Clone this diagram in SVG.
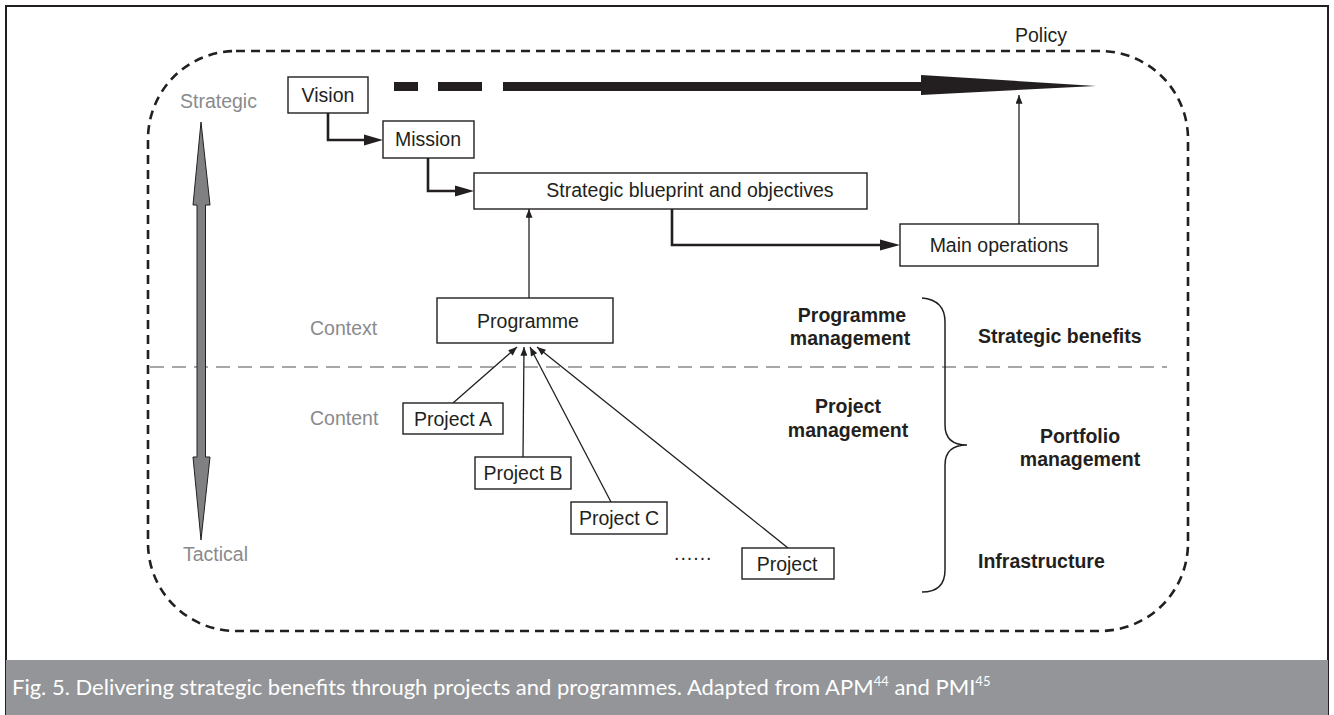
<svg xmlns="http://www.w3.org/2000/svg" width="1334" height="715" viewBox="0 0 1334 715">
<style>
.box{fill:#fff;stroke:#231f20;stroke-width:1.4}
.t{font-family:"Liberation Sans",Arial,sans-serif;font-size:19.5px;fill:#231f20}
.c{text-anchor:middle}
.g{font-family:"Liberation Sans",Arial,sans-serif;font-size:19.5px;fill:#8a8a8d}
.b{font-family:"Liberation Sans",Arial,sans-serif;font-size:19.5px;font-weight:bold;fill:#231f20}
.thick{fill:none;stroke:#231f20;stroke-width:2.6}
.thin{fill:none;stroke:#231f20;stroke-width:1.3}
.cap{font-family:Lato,"Open Sans",sans-serif;font-size:22px;fill:#fff}
</style>
<defs>
<marker id="ah" viewBox="0 0 10 8" refX="10" refY="4" markerWidth="11" markerHeight="7" markerUnits="userSpaceOnUse" orient="auto">
<path d="M0,0 L10,4 L0,8 Z" fill="#231f20"/>
</marker>
</defs>
<rect x="0" y="0" width="1334" height="715" fill="#fff"/>
<rect x="6" y="6" width="1322" height="715" fill="none" stroke="#231f20" stroke-width="2"/>
<rect x="6" y="660" width="1322" height="55" fill="#939598"/>
<text class="cap" x="12" y="695">Fig. 5. Delivering strategic benefits through projects and programmes. Adapted from APM<tspan font-size="13" dy="-9">44</tspan><tspan dy="9"> and PMI</tspan><tspan font-size="13" dy="-9">45</tspan></text>

<rect id="boundary" x="148" y="51" width="1040" height="580" rx="88" ry="88" fill="none" stroke="#231f20" stroke-width="2.6" stroke-dasharray="9 6"/>
<line id="divider" x1="150" y1="367" x2="1167" y2="367" stroke="#8a8a8d" stroke-width="1.5" stroke-dasharray="14 8"/>

<g id="scale">
<polygon points="201,122 210,205 205.5,205 205.5,457 210,457 201,540 193,457 197,457 197,205 193,205" fill="#808083" stroke="#231f20" stroke-width="1"/>
<text class="g" x="180" y="108">Strategic</text>
<text class="g" x="183" y="561">Tactical</text>
<text class="g" x="310" y="335">Context</text>
<text class="g" x="310" y="425">Content</text>
</g>

<g id="policy-arrow">
<rect x="394" y="82" width="24" height="9" fill="#231f20"/>
<rect x="438" y="82" width="44" height="9" fill="#231f20"/>
<polygon points="503,82 921,82 921,75 1096,86 921,95 921,91 503,91" fill="#231f20"/>
<text class="t" x="1015" y="42">Policy</text>
</g>

<g id="connectors">
<path class="thick" d="M328,113 V140 H366"/>
<polygon points="383,140 364,134.5 364,145.5" fill="#231f20"/>
<path class="thick" d="M428,158 V191 H457"/>
<polygon points="474,191 455,185.5 455,196.5" fill="#231f20"/>
<path class="thick" d="M672,209 V245 H882"/>
<polygon points="900,245 880,239.5 880,250.5" fill="#231f20"/>
<line class="thin" x1="529" y1="298" x2="529" y2="209" marker-end="url(#ah)"/>
<line class="thin" x1="1019" y1="224" x2="1019" y2="95" marker-end="url(#ah)"/>
<line class="thin" x1="453" y1="403" x2="517" y2="347" marker-end="url(#ah)"/>
<line class="thin" x1="523" y1="457" x2="524" y2="347" marker-end="url(#ah)"/>
<line class="thin" x1="611" y1="502" x2="530" y2="347" marker-end="url(#ah)"/>
<line class="thin" x1="788" y1="548" x2="537" y2="347" marker-end="url(#ah)"/>
</g>

<g id="vision"><rect class="box" x="288" y="77" width="80" height="36"/><text class="t c" x="328" y="102">Vision</text></g>
<g id="mission"><rect class="box" x="383" y="121" width="91" height="37"/><text class="t c" x="428" y="146">Mission</text></g>
<g id="blueprint"><rect class="box" x="474" y="173" width="393" height="36"/><text class="t c" x="690" y="197">Strategic blueprint and objectives</text></g>
<g id="mainops"><rect class="box" x="900" y="224" width="198" height="42"/><text class="t c" x="999" y="252">Main operations</text></g>
<g id="programme"><rect class="box" x="437" y="298" width="176" height="45"/><text class="t c" x="528" y="328">Programme</text></g>
<g id="projectA"><rect class="box" x="403" y="403" width="100" height="31"/><text class="t c" x="453" y="426">Project A</text></g>
<g id="projectB"><rect class="box" x="475" y="457" width="96" height="32"/><text class="t c" x="523" y="480">Project B</text></g>
<g id="projectC"><rect class="box" x="571" y="502" width="96" height="32"/><text class="t c" x="619" y="525">Project C</text></g>
<g id="projectN"><rect class="box" x="742" y="548" width="92" height="31"/><text class="t c" x="787" y="571">Project</text></g>
<text class="t" x="674" y="560" letter-spacing="1">......</text>

<g id="labels">
<text class="b c" x="852" y="322">Programme</text>
<text class="b c" x="850" y="345">management</text>
<text class="b c" x="848" y="413">Project</text>
<text class="b c" x="848" y="437">management</text>
<path d="M922,298 Q945,300 945,322 V425 Q945,445 967,445 Q945,445 945,465 V570 Q945,592 922,592" fill="none" stroke="#231f20" stroke-width="1.5"/>
<text class="b" x="978" y="343">Strategic benefits</text>
<text class="b c" x="1080" y="443">Portfolio</text>
<text class="b c" x="1080" y="466">management</text>
<text class="b" x="978" y="568">Infrastructure</text>
</g>
</svg>
